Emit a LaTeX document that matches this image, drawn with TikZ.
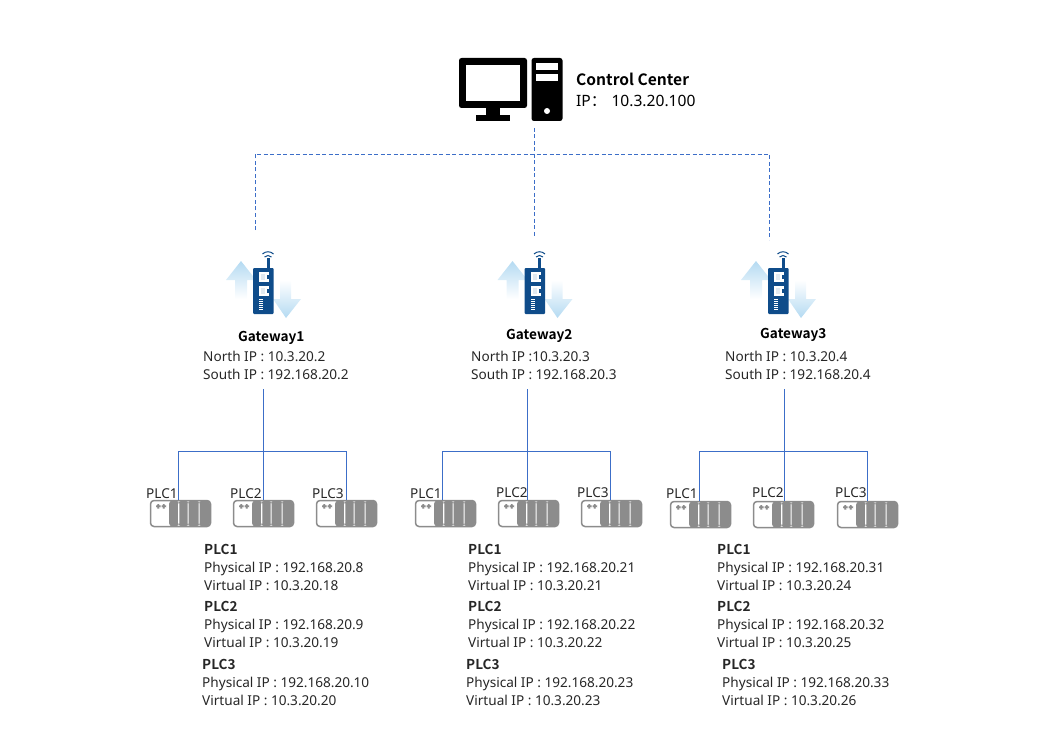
\documentclass[tikz,border=0pt]{standalone}
\usepackage{fontspec}
\usepackage{xcolor}
\setmainfont{Noto Sans}[BoldFont={Noto Sans CJK SC Bold}]
\newfontfamily\cjkfont{Noto Sans CJK SC}
\usetikzlibrary{shapes.geometric}
\definecolor{linkblue}{HTML}{3C6EC8}
\definecolor{gwblue}{HTML}{0F4C8A}
\definecolor{arrowblue}{HTML}{B4DAF2}
\definecolor{plcgray}{HTML}{8C8C8C}
\definecolor{textgray}{HTML}{262626}
\tikzset{
    gateway/.pic={
        % up and down arrows behind the body
        \shade[top color=arrowblue, bottom color=white] (-12,-7) -- (-27,12) -- (-18,12) -- (-18,31) -- (-6,31) -- (-6,12) -- (3,12) -- cycle;
        \shade[bottom color=arrowblue, top color=white] (33,50) -- (20,31) -- (27,31) -- (27,12) -- (38,12) -- (38,31) -- (48,31) -- cycle;
        % body
        \fill[gwblue, rounded corners=1pt] (0,0) rectangle (20.5,46);
        \fill[gwblue] (13.5,-10) rectangle (16.5,1);
        \draw[gwblue, line width=1pt] (11.5,-11) .. controls (13.5,-13) and (16.5,-13) .. (18.5,-11);
        \draw[gwblue, line width=1pt] (9.5,-14) .. controls (12.5,-17) and (17.5,-17) .. (20.5,-14);
        % ports
        \fill[white] (6,4) rectangle (16,14);
        \fill[white] (6,18) rectangle (16,28);
        \fill[gwblue] (14,7) rectangle (16,11);
        \fill[gwblue] (14,21) rectangle (16,25);
        \fill[gwblue!12] (8,6) rectangle (12,12);
        \fill[gwblue!12] (8,20) rectangle (12,26);
        \draw[white, line width=4pt, dash pattern=on 1pt off 1pt] (8,31) -- (8,43);
    },
    plcbox/.style={
        draw=plcgray, line width=1.5pt, rounded corners=3.5pt, fill=white,
        minimum width=60pt, minimum height=26pt, inner sep=0pt,
        path picture={
            \fill[plcgray] ([xshift=18.5pt]path picture bounding box.north west) rectangle ([xshift=-0.5pt]path picture bounding box.south east);
            \foreach \stripe in {27.7,37,48}
                \fill[white] ([xshift=\stripe pt]path picture bounding box.north west) rectangle ([xshift=\stripe pt+1.2pt]path picture bounding box.south west);
            \fill[plcgray] ([xshift=5.5pt,yshift=-3.5pt]path picture bounding box.north west) rectangle ++(4.5pt,-4.5pt);
            \fill[plcgray] ([xshift=11pt,yshift=-3.5pt]path picture bounding box.north west) rectangle ++(4.5pt,-4.5pt);
        }
    },
    info/.style={anchor=west, inner sep=0pt, align=left, text=textgray, font=\fontsize{13.6}{18}\selectfont},
    title/.style={anchor=west, inner sep=0pt, align=left, text=black, font=\fontsize{15.6}{21}\selectfont},
    plclabel/.style={anchor=west, inner sep=0pt, text=textgray, font=\fontsize{13.6}{16}\selectfont},
    uplink/.style={draw=linkblue, line width=0.9pt, dashed, dash pattern=on 4pt off 2.5pt},
    downlink/.style={draw=linkblue, line width=1pt}
}
\begin{document}
\begin{tikzpicture}[x=1pt, y=-1pt]
    \useasboundingbox (0,0) rectangle (1053,741);

    % control center
    \fill[black, rounded corners=2.5pt] (459,58) rectangle (527,108);
    \fill[white] (466,65) rectangle (520,101.5);
    \fill[black] (486,108) rectangle (500,115);
    \fill[black] (476,115) rectangle (510,121);
    \node[draw=none, fill=black, rounded corners=2.5pt, inner sep=0pt, minimum width=31pt, minimum height=63pt] (tower) at (547,89.5) {};
    \fill[white] (536,63) rectangle (558,70);
    \fill[white] (536,74) rectangle (558,81);
    \fill[white] (547,111) circle (3pt);
    \node[title] (center) at (576,90) {\textbf{Control Center}\\IP{\cjkfont ：}\hspace{5pt}10.3.20.100};

    % gateways
    \pic at (253,268) {gateway};
    \pic at (524.5,268) {gateway};
    \pic at (768,268) {gateway};
    \node[info, anchor=base west, text=black] (gwname1) at (238,341) {\textbf{Gateway1}};
    \node[info, anchor=base west, text=black] (gwname2) at (506,339) {\textbf{Gateway2}};
    \node[info, anchor=base west, text=black] (gwname3) at (760,338) {\textbf{Gateway3}};
    \node[info] (gwip1) at (203,365) {North IP : 10.3.20.2\\South IP : 192.168.20.2};
    \node[info] (gwip2) at (471,365) {North IP :10.3.20.3\\South IP : 192.168.20.3};
    \node[info] (gwip3) at (725,365) {North IP : 10.3.20.4\\South IP : 192.168.20.4};

    % dashed uplinks
    \coordinate (busa) at (255,154);
    \coordinate (busc) at (769,154);
    \coordinate (upa) at (255,230);
    \coordinate (upb) at (534,237);
    \coordinate (upc) at (769,240);
    \coordinate (towerend) at (534,128);
    \draw[uplink] (upa) -- (busa) -- (busc) -- (upc);
    \draw[uplink] (towerend) -- (upb);

    % plc racks
    \node[plcbox] (plca) at (180.5,513.5) {};
    \node[plcbox] (plcb) at (263.5,513.5) {};
    \node[plcbox] (plcc) at (346.5,513.5) {};
    \node[plcbox] (plcd) at (445.5,513.5) {};
    \node[plcbox] (plce) at (528.5,513.5) {};
    \node[plcbox] (plcf) at (611.5,513.5) {};
    \node[plcbox] (plcg) at (700.5,514.5) {};
    \node[plcbox] (plch) at (783.5,514.5) {};
    \node[plcbox] (plci) at (867.5,514.5) {};

    \node[plclabel] (lblA) at (146,494) {PLC1};
    \node[plclabel] (lblB) at (230,494) {PLC2};
    \node[plclabel] (lblC) at (312,494) {PLC3};
    \node[plclabel] (lblD) at (410,494) {PLC1};
    \node[plclabel] (lblE) at (496,493) {PLC2};
    \node[plclabel] (lblF) at (577,493) {PLC3};
    \node[plclabel] (lblG) at (666,494) {PLC1};
    \node[plclabel] (lblH) at (752,493) {PLC2};
    \node[plclabel] (lblI) at (835,493) {PLC3};

    % south links
    \coordinate (trunka) at (263,389);
    \coordinate (trunkb) at (527,389);
    \coordinate (trunkc) at (784,389);
    \draw[downlink] (trunka) -- (263,500);
    \draw[downlink] (178,500) -- (178,451) -- (346,451) -- (346,500);
    \draw[downlink] (trunkb) -- (527,500);
    \draw[downlink] (442,500) -- (442,451) -- (610,451) -- (610,500);
    \draw[downlink] (trunkc) -- (784,501);
    \draw[downlink] (699,501) -- (699,451) -- (867,451) -- (867,501);

    % address lists
    \node[info] (addra) at (204,567) {\textbf{PLC1}\\Physical IP : 192.168.20.8\\Virtual IP : 10.3.20.18};
    \node[info] (addrb) at (204,624) {\textbf{PLC2}\\Physical IP : 192.168.20.9\\Virtual IP : 10.3.20.19};
    \node[info] (addrc) at (202,682) {\textbf{PLC3}\\Physical IP : 192.168.20.10\\Virtual IP : 10.3.20.20};
    \node[info] (addrd) at (468,567) {\textbf{PLC1}\\Physical IP : 192.168.20.21\\Virtual IP : 10.3.20.21};
    \node[info] (addre) at (468,624) {\textbf{PLC2}\\Physical IP : 192.168.20.22\\Virtual IP : 10.3.20.22};
    \node[info] (addrf) at (466,682) {\textbf{PLC3}\\Physical IP : 192.168.20.23\\Virtual IP : 10.3.20.23};
    \node[info] (addrg) at (717,567) {\textbf{PLC1}\\Physical IP : 192.168.20.31\\Virtual IP : 10.3.20.24};
    \node[info] (addrh) at (717,624) {\textbf{PLC2}\\Physical IP : 192.168.20.32\\Virtual IP : 10.3.20.25};
    \node[info] (addri) at (722,682) {\textbf{PLC3}\\Physical IP : 192.168.20.33\\Virtual IP : 10.3.20.26};
\end{tikzpicture}
\end{document}
